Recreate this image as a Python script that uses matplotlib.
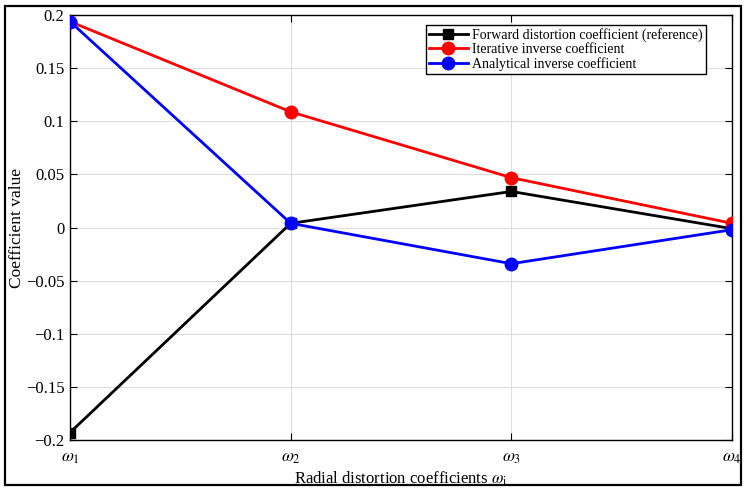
import matplotlib.pyplot as plt
from matplotlib.patches import Rectangle

# Data
labels = [r'$\omega_1$', r'$\omega_2$', r'$\omega_3$', r'$\omega_4$']
xpos = [1, 2, 3, 4]
forward = [-0.193, 0.004, 0.034, -0.001]
iterative = [0.194, 0.109, 0.047, 0.004]
analytical = [0.194, 0.004, -0.034, -0.002]
yticks = [-0.2, -0.15, -0.1, -0.05, 0, 0.05, 0.1, 0.15, 0.2]
yticklabels = ['\u22120.2', '\u22120.15', '\u22120.1', '\u22120.05', '0', '0.05', '0.1', '0.15', '0.2']

plt.rcParams['font.family'] = ['Liberation Serif', 'DejaVu Serif']
plt.rcParams['mathtext.fontset'] = 'stix'

fig = plt.figure(figsize=(7.48, 4.94), dpi=100)
ax = fig.add_axes([0.0936, 0.1093, 0.885, 0.860])

ax.plot(xpos, forward, 'k-', marker='s', markersize=7, linewidth=2,
        label='Forward distortion coefficient (reference)', zorder=3)
ax.plot(xpos, iterative, '-', color='#ff0000', marker='o', markersize=9, linewidth=2,
        label='Iterative inverse coefficient', zorder=3)
ax.plot(xpos, analytical, '-', color='#0000ff', marker='o', markersize=9, linewidth=2,
        label='Analytical inverse coefficient', zorder=4)

ax.set_xlim(1, 4)
ax.set_ylim(-0.2, 0.2)
ax.set_xticks(xpos)
ax.set_xticklabels(labels, fontsize=12.5)
ax.set_yticks(yticks)
ax.set_yticklabels(yticklabels, fontsize=12)
ax.tick_params(direction='in', top=True, right=True, length=5, width=0.8)
ax.tick_params(axis='y', pad=4)
ax.tick_params(axis='x', pad=7)
ax.grid(True, color='#dddddd', linewidth=0.8)
ax.set_axisbelow(True)
for s in ax.spines.values():
    s.set_linewidth(1.0)

ax.set_xlabel(r'Radial distortion coefficients $\omega_\mathrm{i}$', fontsize=12, labelpad=3)
ax.set_ylabel('Coefficient value', fontsize=12.5)
ax.yaxis.set_label_coords(-0.068, 0.5)

leg = ax.legend(loc='upper right', bbox_to_anchor=(0.96, 0.976), fontsize=10,
                frameon=True, fancybox=False, edgecolor='black', framealpha=1,
                handlelength=2.8, borderpad=0.2, labelspacing=0.08, handletextpad=0.3,
                borderaxespad=0)
leg.get_frame().set_linewidth(1.0)

# outer figure border
fig.patches.append(Rectangle((0.0067, 0.018), 0.984, 0.970, transform=fig.transFigure,
                             fill=False, edgecolor='black', linewidth=1.6))

fig.savefig('out.png', dpi=100)
